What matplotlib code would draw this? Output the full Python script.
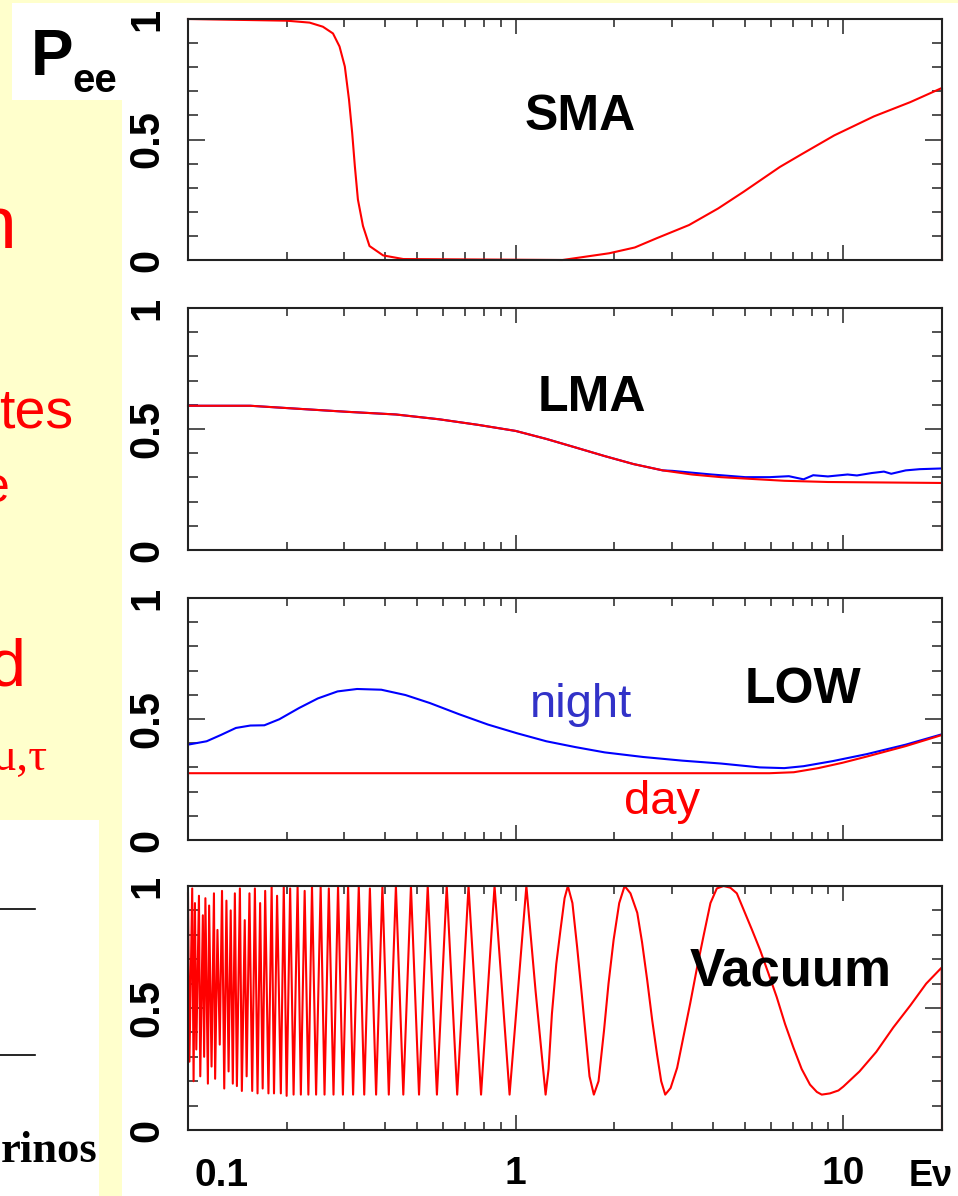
import numpy as np
import matplotlib
matplotlib.use('Agg')
import matplotlib.pyplot as plt
from matplotlib.patches import Rectangle
from matplotlib.lines import Line2D

plt.rcParams['font.family'] = ['Liberation Sans', 'DejaVu Sans']

W, H = 958, 1196

# ---- values: neutrino energy E and survival probability P_ee ----
# SMA
sma_E = [0.1, 0.2, 0.235, 0.258, 0.277, 0.29, 0.301, 0.31, 0.317, 0.323, 0.33, 0.342,
         0.358, 0.394, 0.454, 1.39, 1.93, 2.31, 2.69, 3.38, 4.15, 4.96, 6.4, 7.46,
         9.38, 12.4, 16.0, 20.0, 20.0]
sma_P = [1.0, 0.993, 0.985, 0.968, 0.94, 0.886, 0.803, 0.665, 0.527, 0.389, 0.251, 0.141,
         0.058, 0.019, 0.004, 0.0, 0.028, 0.052, 0.09, 0.145, 0.214, 0.283, 0.386, 0.439,
         0.517, 0.596, 0.655, 0.714, 0.0]

# LMA
lma_day_E = [0.1, 0.155, 0.203, 0.306, 0.431, 0.585, 0.769, 1.0, 1.24, 1.52, 1.87, 2.29,
             2.81, 3.45, 4.23, 5.2, 6.6, 8.97, 20.0, 20.0]
lma_day_P = [0.596, 0.596, 0.586, 0.571, 0.56, 0.54, 0.517, 0.492, 0.459, 0.424, 0.388, 0.355,
             0.329, 0.312, 0.301, 0.294, 0.286, 0.281, 0.277, 0.0]
lma_night_E = [0.1, 0.155, 0.203, 0.306, 0.431, 0.585, 0.769, 1.0, 1.24, 1.52, 1.87, 2.29,
               2.81, 3.01, 3.96, 5.02, 5.96, 6.82, 7.56, 8.09, 8.97, 10.3, 11.0, 12.2,
               13.3, 14.0, 15.5, 17.1, 20.0]
lma_night_P = [0.596, 0.596, 0.586, 0.571, 0.56, 0.54, 0.517, 0.492, 0.459, 0.424, 0.388, 0.355,
               0.329, 0.327, 0.312, 0.301, 0.301, 0.305, 0.292, 0.309, 0.304, 0.312, 0.308, 0.318,
               0.324, 0.315, 0.329, 0.334, 0.337]

# LOW
low_night_E = [0.1, 0.114, 0.126, 0.14, 0.155, 0.171, 0.19, 0.218, 0.249, 0.286, 0.328, 0.389,
               0.461, 0.547, 0.671, 0.823, 1.01, 1.24, 1.52, 1.87, 2.45, 3.22, 4.23, 5.56,
               6.6, 7.56, 9.28, 11.8, 15.5, 20.0]
low_night_P = [0.394, 0.408, 0.434, 0.463, 0.473, 0.474, 0.499, 0.545, 0.585, 0.614, 0.624, 0.621,
               0.599, 0.566, 0.52, 0.477, 0.441, 0.408, 0.384, 0.362, 0.343, 0.328, 0.316, 0.3,
               0.297, 0.305, 0.326, 0.355, 0.394, 0.437]
low_day_E = [0.1, 5.95, 7.06, 8.38, 9.93, 11.8, 15.5, 20.0]
low_day_P = [0.276, 0.276, 0.28, 0.297, 0.319, 0.345, 0.388, 0.434]

# Vacuum: maxima, minima and points on the wide flanks
vac_peak_E = [0.100, 0.103, 0.105, 0.108, 0.111, 0.113, 0.116, 0.120, 0.123, 0.127, 0.131,
              0.135, 0.139, 0.144, 0.149, 0.154, 0.160, 0.166, 0.172, 0.180, 0.187, 0.196,
              0.205, 0.216, 0.227, 0.239, 0.254, 0.269, 0.287, 0.308, 0.332, 0.359, 0.392,
              0.431, 0.479, 0.539, 0.616, 0.718, 0.862, 1.078, 1.443, 2.15, 4.31]
vac_peak_P = [0.97, 0.99, 0.93, 0.96, 0.88, 0.95, 0.92, 0.97, 0.82, 0.98, 0.94,
              0.90, 0.97, 0.99, 0.86, 0.97, 0.99, 0.93, 0.98, 1.0, 0.96, 1.0,
              0.99, 1.0, 0.98, 1.0, 1.0, 0.99, 1.0, 1.0, 1.0, 0.99, 1.0,
              1.0, 1.0, 1.0, 1.0, 1.0, 1.0, 1.0, 1.0, 1.0, 1.0]
vac_trough_E = [0.101, 0.104, 0.106, 0.109, 0.112, 0.115, 0.118, 0.121, 0.125, 0.129, 0.133,
                0.137, 0.141, 0.146, 0.151, 0.157, 0.163, 0.169, 0.176, 0.183, 0.192, 0.200,
                0.210, 0.221, 0.233, 0.246, 0.261, 0.278, 0.297, 0.319, 0.345, 0.375, 0.410,
                0.454, 0.507, 0.575, 0.663, 0.784, 0.958, 1.234, 1.732, 2.86, 8.59]
vac_trough_P = [0.28, 0.20, 0.33, 0.22, 0.30, 0.19, 0.26, 0.21, 0.35, 0.17, 0.24,
                0.19, 0.18, 0.16, 0.22, 0.16, 0.15, 0.17, 0.15, 0.15, 0.15, 0.14,
                0.145, 0.145, 0.145, 0.145, 0.145, 0.145, 0.145, 0.145, 0.145, 0.145, 0.145,
                0.145, 0.145, 0.145, 0.145, 0.145, 0.145, 0.145, 0.145, 0.145, 0.145]
vac_flank_E = [1.15, 1.26, 1.29, 1.33, 1.37, 1.41,
               1.49, 1.54, 1.59, 1.63, 1.68,
               1.79, 1.86, 1.92, 1.99, 2.07,
               2.24, 2.35, 2.43, 2.52, 2.61, 2.7, 2.78,
               2.97, 3.11, 3.26, 3.41, 3.57, 3.75, 3.93, 4.11,
               4.52, 4.73, 4.96, 5.26, 5.57, 5.91, 6.26, 6.64, 7.04, 7.46, 7.91, 8.3,
               9.1, 9.66, 10.0, 11.2, 12.6, 14.2, 16.0, 17.9, 19.96, 20.0]
vac_flank_P = [0.57, 0.25, 0.476, 0.68, 0.82, 0.95,
               0.93, 0.75, 0.56, 0.407, 0.22,
               0.2, 0.407, 0.6, 0.779, 0.93,
               0.97, 0.89, 0.77, 0.614, 0.45, 0.31, 0.2,
               0.172, 0.255, 0.39, 0.52, 0.66, 0.8, 0.93, 0.99,
               0.993, 0.97, 0.903, 0.821, 0.738, 0.641, 0.545, 0.434, 0.338, 0.25, 0.186, 0.156,
               0.15, 0.162, 0.178, 0.24, 0.32, 0.42, 0.51, 0.6, 0.666, 0.0]

panel_names = ['SMA', 'LMA', 'LOW', 'Vacuum']
x_minor = [0.2, 0.3, 0.4, 0.5, 0.6, 0.7, 0.8, 0.9, 2, 3, 4, 5, 6, 7, 8, 9]

RED = '#ff0000'
BLUE = '#0000ff'
FRAME = '#222222'
LW = 1.5


def fx(px):
    return px / W


def fy(py):
    return 1 - py / H


fig = plt.figure(figsize=(W / 100, H / 100), dpi=100)
fig.patch.set_facecolor('#ffffcc')

# white areas of the slide
fig.add_artist(Rectangle((fx(122), 0), 1 - fx(122), fy(3), transform=fig.transFigure,
                         facecolor='white', edgecolor='none', zorder=-1))
fig.add_artist(Rectangle((fx(12), fy(100)), fx(122) - fx(12), fy(3) - fy(100),
                         transform=fig.transFigure, facecolor='white', edgecolor='none', zorder=-1))
fig.add_artist(Rectangle((0, 0), fx(99), fy(820), transform=fig.transFigure,
                         facecolor='white', edgecolor='none', zorder=-1))
for yy in [909, 1055]:
    fig.add_artist(Line2D([0, fx(35)], [fy(yy), fy(yy)], transform=fig.transFigure,
                          color='black', lw=1.2))

panels = [(19, 260), (308, 550), (598, 840), (886, 1130)]
axes = []
for top, bot in panels:
    ax = fig.add_axes([fx(188), fy(bot), fx(942) - fx(188), (bot - top) / H])
    ax.set_xscale('log')
    ax.set_xlim(0.1, 20)
    ax.set_ylim(0, 1)
    ax.set_xticks([1, 10])
    ax.set_xticks(x_minor, minor=True)
    ax.xaxis.set_minor_formatter(plt.NullFormatter())
    ax.set_yticks([0, 0.5, 1])
    ax.set_yticks(np.arange(0.1, 1.0, 0.1), minor=True)
    ax.set_yticklabels(['0', '0.5', '1'], rotation=90, va='center',
                       fontsize=30, fontweight='bold')
    ax.tick_params(which='both', direction='in', top=True, right=True,
                   width=1.1, color=FRAME)
    ax.tick_params(axis='y', which='major', length=12, pad=15)
    ax.tick_params(axis='y', which='minor', length=7)
    ax.tick_params(axis='x', which='major', length=10.5)
    ax.tick_params(axis='x', which='minor', length=5.5)
    for s in ax.spines.values():
        s.set_linewidth(1.5)
        s.set_color(FRAME)
    ax.set_xticklabels([])
    axes.append(ax)

ax1, ax2, ax3, ax4 = axes

ax1.plot(sma_E, sma_P, color=RED, lw=LW, clip_on=False)

ax2.plot(lma_night_E, lma_night_P, color=BLUE, lw=LW)
ax2.plot(lma_day_E, lma_day_P, color=RED, lw=LW, clip_on=False)

ax3.plot(low_night_E, low_night_P, color=BLUE, lw=LW)
ax3.plot(low_day_E, low_day_P, color=RED, lw=LW)

vac_E = np.array(vac_peak_E + vac_trough_E + vac_flank_E)
vac_P = np.array(vac_peak_P + vac_trough_P + vac_flank_P)
order = np.argsort(vac_E, kind='stable')
ax4.plot(vac_E[order], vac_P[order], color=RED, lw=LW, clip_on=False)

ax4.set_xticklabels(['1', '10'], fontsize=28, fontweight='bold')
ax4.tick_params(axis='x', which='major', pad=19)
fig.text(fx(195), fy(1186), '0.1', fontsize=28, fontweight='bold', ha='left', va='baseline')
fig.text(fx(953), fy(1186), 'Eν', fontsize=26, fontweight='bold', ha='right', va='baseline')

# panel labels
fig.text(fx(580), fy(130), panel_names[0], fontsize=36, fontweight='bold', ha='center', va='baseline')
fig.text(fx(592), fy(411), panel_names[1], fontsize=36, fontweight='bold', ha='center', va='baseline')
fig.text(fx(803), fy(703), panel_names[2], fontsize=36, fontweight='bold', ha='center', va='baseline')
fig.text(fx(791), fy(986), panel_names[3], fontsize=38, fontweight='bold', ha='center', va='baseline')
fig.text(fx(581), fy(717), 'night', fontsize=34, color='#3232c8', ha='center', va='baseline')
fig.text(fx(662), fy(814), 'day', fontsize=34, color=RED, ha='center', va='baseline')

# P_ee box
fig.text(fx(31), fy(75), 'P', fontsize=46, fontweight='bold', ha='left', va='baseline')
fig.text(fx(72), fy(92), 'ee', fontsize=29, fontweight='bold', ha='left', va='baseline')

# cut-off slide text on the left
fig.text(fx(17), fy(248), 'n', fontsize=54, color=RED, ha='right', va='baseline')
fig.text(fx(73), fy(428), 'tes', fontsize=40, color=RED, ha='right', va='baseline')
fig.text(fx(10), fy(502), 'e', fontsize=36, color=RED, ha='right', va='baseline')
fig.text(fx(25), fy(685), 'd', fontsize=48, color=RED, ha='right', va='baseline')
fig.text(fx(47), fy(770), 'μ,τ', fontsize=34, color=RED, ha='right', va='baseline',
         family=['Liberation Serif', 'DejaVu Serif'])
fig.text(fx(97), fy(1162), 'rinos', fontsize=32, fontweight='bold', ha='right', va='baseline',
         family=['Liberation Serif', 'DejaVu Serif'])

fig.savefig('out.png', dpi=100, facecolor=fig.get_facecolor())
